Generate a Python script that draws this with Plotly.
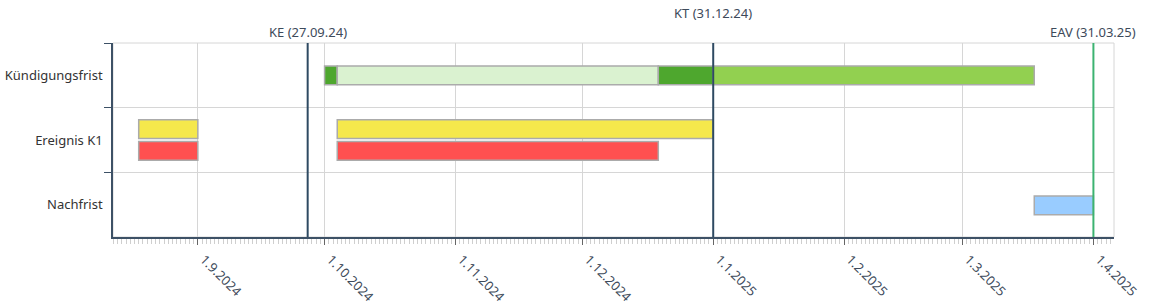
import pandas as pd
import plotly.graph_objects as go

# ---------------- data ----------------
categories = ["Kündigungsfrist", "Ereignis K1", "Nachfrist"]

kf_start = ["2024-10-01", "2024-10-04", "2024-12-19", "2025-01-01"]
kf_end = ["2024-10-04", "2024-12-19", "2025-01-01", "2025-03-18"]
kf_colors = ["#4EA72E", "#DAF2D0", "#4EA72E", "#92D050"]

k1_yellow_start = ["2024-08-18", "2024-10-04"]
k1_yellow_end = ["2024-09-01", "2025-01-01"]

k1_red_start = ["2024-08-18", "2024-10-04"]
k1_red_end = ["2024-09-01", "2024-12-19"]

nf_start = ["2025-03-18"]
nf_end = ["2025-04-01"]

event_dates = ["2024-09-27", "2025-01-01", "2025-04-01"]
event_labels = ["KE (27.09.24)", "KT (31.12.24)", "EAV (31.03.25)"]

x_range = ["2024-08-11 22:00", "2025-04-05 21:00"]

# ---------------- styles ----------------
FONT = "Noto Sans"
BORDER = "#ababab"
AXIS = "#3d5166"
GRID = "#d6d6d6"


def dur_ms(starts, ends):
    s = pd.to_datetime(pd.Series(starts))
    e = pd.to_datetime(pd.Series(ends))
    return ((e - s).dt.total_seconds() * 1000).tolist()


fig = go.Figure()


def add_bars(cat, starts, ends, colors, offset, width):
    fig.add_trace(go.Bar(
        orientation="h",
        y=[cat] * len(starts),
        base=starts,
        x=dur_ms(starts, ends),
        marker=dict(color=colors, line=dict(color=BORDER, width=1.5)),
        offset=offset,
        width=width,
        showlegend=False,
        hoverinfo="skip",
    ))


add_bars(categories[0], kf_start, kf_end, kf_colors, -0.143, 0.29)
add_bars(categories[1], k1_yellow_start, k1_yellow_end, "#F5E84C", -0.312, 0.29)
add_bars(categories[1], k1_red_start, k1_red_end, "#FF5050", 0.022, 0.29)
add_bars(categories[2], nf_start, nf_end, "#99CCFF", -0.135, 0.29)

# frame (grey) around plot area
fig.add_shape(type="rect", xref="paper", yref="paper", x0=0, x1=1, y0=0, y1=1,
              line=dict(color=GRID, width=1), layer="below")

line_colors = ["#2E4A62", "#2E4A62", "#3CB371"]
label_shift = [0, 19, 0]
for d, lab, c, sh in zip(event_dates, event_labels, line_colors, label_shift):
    fig.add_shape(type="line", xref="x", yref="paper", x0=d, x1=d, y0=0, y1=1,
                  line=dict(color=c, width=2), layer="above")
    fig.add_annotation(x=d, xref="x", y=1, yref="paper", yanchor="bottom",
                       text=lab, showarrow=False, yshift=sh,
                       font=dict(family=FONT, size=13, color="#3d4a5a"))

fig.update_layout(
    width=1159, height=305,
    margin=dict(l=113, r=45, t=43, b=68, autoexpand=False),
    paper_bgcolor="white", plot_bgcolor="white",
    barmode="overlay",
    font=dict(family=FONT, size=13, color="#333333"),
    showlegend=False,
)

fig.update_xaxes(
    type="date", range=x_range, automargin=False,
    dtick="M1", tick0="2024-09-01", tickformat="%-d.%-m.%Y", tickangle=45,
    ticks="outside", ticklen=6, tickcolor="#666666", tickwidth=1,
    showgrid=True, gridcolor=GRID, gridwidth=1,
    showline=True, linecolor=AXIS, linewidth=1.5,
    tickfont=dict(family=FONT, size=13, color="#3d4a5a"),
    ticklabelshift=6, ticklabelstandoff=2,
    minor=dict(dtick=86400000, tick0="2024-09-01", ticks="outside", ticklen=5,
               tickcolor="#cfcfcf", tickwidth=1, showgrid=False),
    zeroline=False,
)
fig.update_yaxes(
    type="category", categoryorder="array", categoryarray=categories,
    range=[2.5, -0.5], automargin=False,
    tickson="boundaries", ticks="outside", ticklen=7, tickcolor=AXIS, tickwidth=1,
    showgrid=True, gridcolor=GRID, gridwidth=1,
    showline=True, linecolor=AXIS, linewidth=1.5,
    tickfont=dict(family=FONT, size=13, color="#333333"),
    ticklabelstandoff=6,
)

fig.write_html("out.html")
